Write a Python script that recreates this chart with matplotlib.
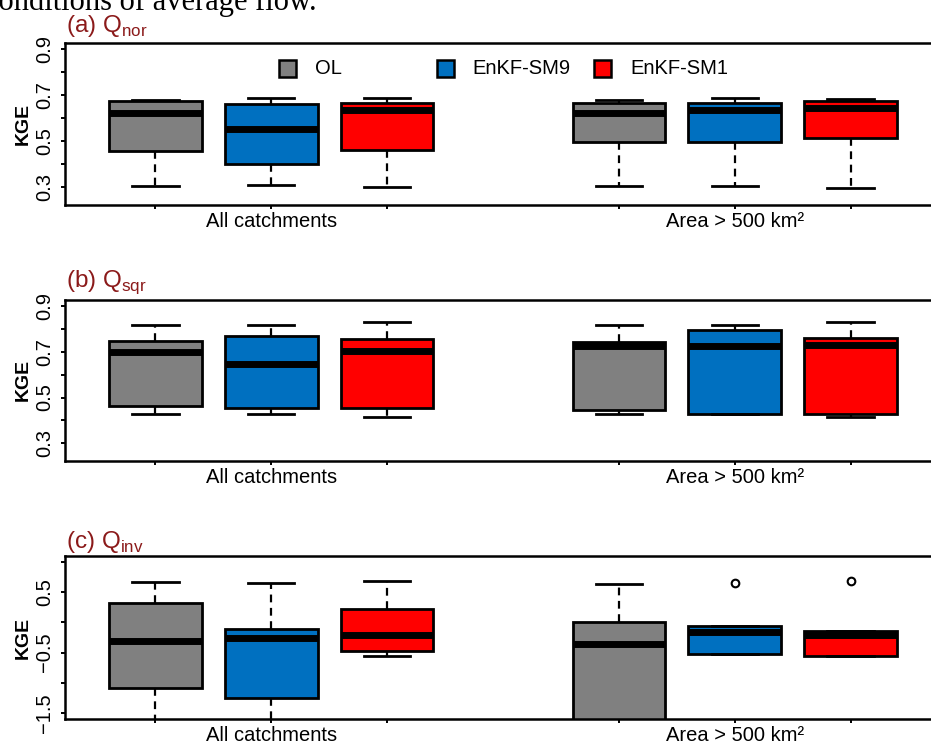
import matplotlib.pyplot as plt
from matplotlib.patches import Rectangle

plt.rcParams['font.family'] = ['Liberation Sans', 'DejaVu Sans']
plt.rcParams['mathtext.fontset'] = 'custom'
plt.rcParams['mathtext.rm'] = 'Liberation Sans'

runs = ['OL', 'EnKF-SM9', 'EnKF-SM1']
run_colors = ['#808080', '#0070C0', '#FF0000']
groups = ['All catchments', 'Area > 500 km²']
positions = [1, 2, 3, 5, 6, 7]

# rows: whislo, q1, median, q3, whishi
# order: OL, SM9, SM1 for all catchments, then OL, SM9, SM1 for area > 500
qnor = [
    [0.307, 0.457, 0.623, 0.672, 0.680],
    [0.309, 0.403, 0.554, 0.662, 0.688],
    [0.300, 0.460, 0.633, 0.665, 0.685],
    [0.307, 0.498, 0.622, 0.665, 0.677],
    [0.307, 0.496, 0.636, 0.665, 0.688],
    [0.299, 0.515, 0.643, 0.672, 0.684],
]
qsqr = [
    [0.427, 0.462, 0.700, 0.746, 0.818],
    [0.427, 0.453, 0.646, 0.770, 0.818],
    [0.414, 0.453, 0.705, 0.754, 0.831],
    [0.427, 0.445, 0.726, 0.744, 0.818],
    [0.426, 0.426, 0.726, 0.795, 0.818],
    [0.414, 0.430, 0.729, 0.759, 0.831],
]
qinv = [
    [-2.00, -1.083, -0.312, 0.327, 0.677],
    [-2.00, -1.250, -0.250, -0.107, 0.655],
    [-0.557, -0.473, -0.212, 0.222, 0.688],
    [-2.60, -1.900, -0.362, 0.010, 0.638],
    [-0.517, -0.517, -0.167, -0.062, -0.062],
    [-0.562, -0.562, -0.207, -0.140, -0.140],
]
qinv_out = [[], [], [], [], [0.66], [0.69]]

kge_ticks = [0.3, 0.4, 0.5, 0.6, 0.7, 0.8, 0.9]
kge_labels = ['0.3', '', '0.5', '', '0.7', '', '0.9']
inv_ticks = [-1.5, -1.0, -0.5, 0.0, 0.5, 1.0]
inv_labels = ['\u22121.5', '', '\u22120.5', '', '0.5', '']

panels = [
    ('(a) Q$_{\\mathrm{nor}}$', qnor, None, (0.25, 0.9), kge_ticks, kge_labels),
    ('(b) Q$_{\\mathrm{sqr}}$', qsqr, None, (0.25, 0.9), kge_ticks, kge_labels),
    ('(c) Q$_{\\mathrm{inv}}$', qinv, qinv_out, (-1.5, 1.0), inv_ticks, inv_labels),
]

W, H = 931, 746
fig = plt.figure(figsize=(W / 100, H / 100), dpi=100)

# page text above the figure
fig.text(-15 / W, 1 - 10 / H, 'conditions of average flow.', family='Liberation Serif',
         size=22, va='baseline', ha='left')

# axes boxes in pixels: top, bottom, title baseline
frames = [(42.7, 205, 32), (300, 460.7, 287), (556, 719, 548)]
left, right = 65, 941

for (title, data, out, ylim, yt, ylab), (top, bot, tb) in zip(panels, frames):
    ax = fig.add_axes([left / W, 1 - bot / H, (right - left) / W, (bot - top) / H])
    stats = []
    for i, row in enumerate(data):
        stats.append(dict(whislo=row[0], q1=row[1], med=row[2], q3=row[3], whishi=row[4],
                          fliers=(out[i] if out else [])))
    bp = ax.bxp(stats, positions=positions, widths=0.8, capwidths=0.4, patch_artist=True,
                boxprops=dict(edgecolor='black', linewidth=2.0),
                medianprops=dict(color='black', linewidth=5.0, solid_capstyle='butt'),
                whiskerprops=dict(color='black', linewidth=1.6, linestyle=(0, (3.5, 2.5))),
                capprops=dict(color='black', linewidth=2.0),
                flierprops=dict(marker='o', markerfacecolor='none', markeredgecolor='black',
                                markersize=5.5, markeredgewidth=1.5))
    for k, box in enumerate(bp['boxes']):
        box.set_facecolor(run_colors[k % 3])

    span = ylim[1] - ylim[0]
    ax.set_ylim(ylim[0] - 0.04 * span, ylim[1] + 0.04 * span)
    ax.set_xlim(0.22, 7.78)

    ax.set_yticks(yt)
    ax.set_yticklabels(ylab)
    ax.set_xticks(positions)
    ax.set_xticklabels(['', groups[0], '', '', groups[1], ''])

    ax.tick_params(axis='both', direction='out', length=3, width=1.4, labelsize=14.5,
                   colors='black')
    ax.tick_params(axis='x', pad=2)
    ax.tick_params(axis='y', pad=5, labelrotation=90)
    for lab in ax.get_yticklabels():
        lab.set_va('center')
    for s in ax.spines.values():
        s.set_linewidth(1.8)

    ax.set_ylabel('KGE', fontsize=14, fontweight='bold')
    ax.yaxis.set_label_coords(-0.038, 0.5)

    fig.text((left + 1) / W, 1 - tb / H, title, color='#8B1A1A', fontsize=17.5,
             va='baseline', ha='left')

    if data is qnor:
        # legend row across the top of the first panel
        for k, (name, c) in enumerate(zip(runs, run_colors)):
            x0 = (279 + k * 157.5 - left) / (right - left)
            ax.add_patch(Rectangle((x0, 0.786), 17 / (right - left), 17 / (bot - top),
                                   transform=ax.transAxes, facecolor=c, edgecolor='black',
                                   linewidth=1.8, clip_on=False))
            ax.text(x0 + 36 / (right - left), 0.838, name, transform=ax.transAxes,
                    fontsize=14.5, va='center', ha='left')

fig.savefig('out.png', dpi=100)
